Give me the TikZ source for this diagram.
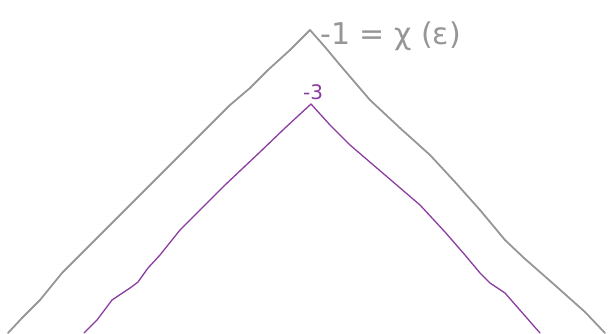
\documentclass[tikz,border=0pt]{standalone}
\usepackage{fontspec}
\setmainfont{DejaVu Sans}
\definecolor{pen}{RGB}{150,150,150}
\definecolor{plum}{RGB}{140,60,160}
\begin{document}
\begin{tikzpicture}[x=1pt,y=-1pt,
  grayline/.style={draw=pen,line width=1.8pt,line cap=round,line join=round},
  purpleline/.style={draw=plum,line width=1.3pt,line cap=round,line join=round},
  lbl/.style={inner sep=0pt,anchor=west}]
\useasboundingbox (0,0) rectangle (609,333);
\draw[grayline] (8,333) -- (22,318) -- (40,300) -- (62,273) -- (70,265) -- (95,240) -- (120,215) -- (145,190) -- (170,165) -- (200,135) -- (230,105) -- (250,88) -- (268,70) -- (290,50) -- (310,30)
  -- (325,47) -- (340,65) -- (370,100) -- (400,128) -- (430,155) -- (455,182) -- (480,210) -- (505,240) -- (524,258) -- (557,287) -- (585,312) -- (605,333);
\draw[purpleline] (84,333) -- (97,320) -- (112,300) -- (130,288) -- (138,282) -- (148,268) -- (160,255) -- (180,230) -- (200,210) -- (225,185) -- (260,152) -- (285,128) -- (311,104)
  -- (330,125) -- (350,145) -- (385,175) -- (420,205) -- (445,232) -- (465,255) -- (480,273) -- (490,283) -- (505,293) -- (540,333);
\node[lbl,text=pen,font=\fontsize{30}{32}\selectfont] (chi) at (320,36) {-1 = χ (ε)};
\node[text=plum,inner sep=0pt,font=\fontsize{20}{22}\selectfont] (m3) at (313,92) {-3};
\end{tikzpicture}
\end{document}
